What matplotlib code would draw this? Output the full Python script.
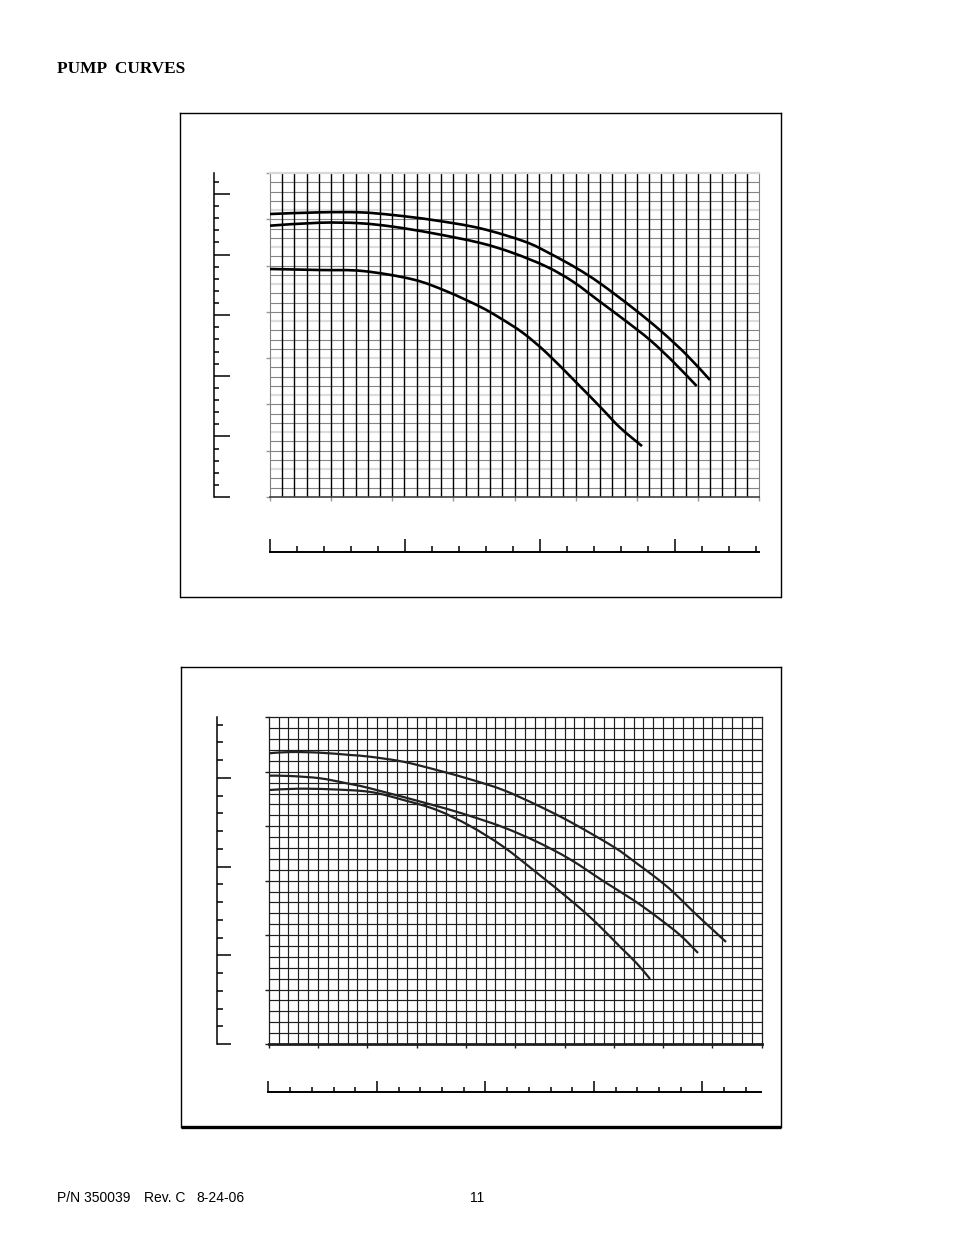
import numpy as np
import matplotlib.pyplot as plt
from matplotlib.path import Path
from matplotlib.patches import PathPatch
from matplotlib.ticker import MultipleLocator

# page size in pixels
W, H = 954, 1235

# ---- data (grid units: x = columns, y = rows) ----
# upper chart: 40 x 35 grid
top_a_x = [0.00, 4.09, 7.36, 10.06, 13.33, 17.18, 20.86, 22.90, 25.09, 26.99, 29.72, 32.04, 34.09, 35.99]
top_a_y = [30.57, 30.75, 30.75, 30.46, 29.92, 29.03, 27.58, 26.30, 24.71, 23.09, 20.38, 17.86, 15.34, 12.64]
top_b_x = [0.00, 4.09, 7.36, 10.06, 13.33, 17.18, 19.88, 22.63, 24.79, 26.99, 29.18, 31.08, 32.99, 34.90]
top_b_y = [29.31, 29.63, 29.57, 29.20, 28.49, 27.45, 26.36, 24.88, 23.26, 21.10, 18.94, 16.96, 14.60, 11.99]
top_c_x = [0.00, 4.09, 7.61, 11.70, 14.48, 17.18, 18.81, 20.70, 22.63, 25.09, 27.00, 28.63, 30.43]
top_c_y = [24.63, 24.52, 24.41, 23.50, 22.20, 20.56, 19.34, 17.72, 15.56, 12.32, 9.75, 7.50, 5.50]

# lower chart: 50 x 30 grid
bot_a_x = [0.00, 2.16, 5.20, 8.24, 10.27, 13.65, 17.04, 20.42, 23.79, 27.18, 30.56, 34.95, 37.32, 39.35, 41.03, 43.06, 45.09, 46.38]
bot_a_y = [26.69, 26.81, 26.75, 26.54, 26.38, 25.92, 25.16, 24.31, 23.32, 21.95, 20.41, 18.12, 16.59, 15.22, 13.95, 12.15, 10.45, 9.37]
bot_b_x = [0.00, 2.16, 5.20, 7.91, 10.27, 17.04, 20.42, 23.79, 27.18, 30.56, 34.28, 36.98, 39.35, 41.71, 43.54]
bot_b_y = [24.64, 24.61, 24.40, 23.94, 23.48, 21.85, 20.94, 19.90, 18.58, 16.96, 14.76, 13.22, 11.69, 10.01, 8.36]
bot_c_x = [0.00, 2.84, 6.22, 10.27, 13.65, 17.04, 20.42, 23.79, 27.18, 30.89, 33.27, 35.63, 37.32, 38.68]
bot_c_y = [23.32, 23.44, 23.39, 23.15, 22.41, 21.49, 20.02, 18.12, 15.73, 13.00, 11.08, 8.93, 7.41, 5.97]

PT = 0.72  # points per pixel at dpi 100


def rect(x0, y0, x1, y1):
    return [x0 / W, 1 - y1 / H, (x1 - x0) / W, (y1 - y0) / H]


def box(fig, r, bottom_lw=1.0):
    ax = fig.add_axes(r)
    ax.set_xticks([])
    ax.set_yticks([])
    for s in ax.spines.values():
        s.set_linewidth(1.0)
        s.set_color('black')
    ax.spines['bottom'].set_linewidth(bottom_lw)
    ax.spines['bottom'].set_capstyle('butt')
    return ax


def left_ruler(fig, r, top, major_len, minor_len):
    ax = fig.add_axes(r)
    ax.patch.set_visible(False)
    for s in ['right', 'top', 'bottom']:
        ax.spines[s].set_visible(False)
    ax.spines['left'].set_linewidth(1.1)
    ax.set_ylim(0, top)
    ax.set_xticks([])
    ax.yaxis.set_major_locator(MultipleLocator(1))
    ax.yaxis.set_minor_locator(MultipleLocator(0.2))
    ax.tick_params(axis='y', which='major', direction='in', length=major_len * PT, width=1.1, labelleft=False)
    ax.tick_params(axis='y', which='minor', direction='in', length=minor_len * PT, width=1.1)
    return ax


def bottom_ruler(fig, r, right, major_len, minor_len):
    ax = fig.add_axes(r)
    ax.patch.set_visible(False)
    for s in ['right', 'top', 'left']:
        ax.spines[s].set_visible(False)
    ax.spines['bottom'].set_linewidth(1.4)
    ax.set_xlim(0, right)
    ax.set_yticks([])
    ax.xaxis.set_major_locator(MultipleLocator(1))
    ax.xaxis.set_minor_locator(MultipleLocator(0.2))
    ax.tick_params(axis='x', which='major', direction='in', length=major_len * PT, width=1.1, labelbottom=False)
    ax.tick_params(axis='x', which='minor', direction='in', length=minor_len * PT, width=1.1)
    return ax


def smooth_curve(ax, xs, ys, **kw):
    # Catmull-Rom through the read points, drawn as cubic Bezier segments
    p = np.column_stack([xs, ys])
    verts = [p[0]]
    codes = [Path.MOVETO]
    for i in range(len(p) - 1):
        p0 = p[i - 1] if i > 0 else p[i]
        p3 = p[i + 2] if i + 2 < len(p) else p[i + 1]
        c1 = p[i] + (p[i + 1] - p0) / 6
        c2 = p[i + 1] - (p3 - p[i]) / 6
        verts += [c1, c2, p[i + 1]]
        codes += [Path.CURVE4] * 3
    ax.add_patch(PathPatch(Path(verts, codes), fill=False, capstyle='butt', **kw))


fig = plt.figure(figsize=(W / 100, H / 100), dpi=100)

fig.text(57 / W, 1 - 69 / H, 'PUMP  CURVES', family='Liberation Serif', weight='bold',
         fontsize=12.4, va='center', ha='left')
foot_y = 1 - 1198 / H
fig.text(57 / W, foot_y, 'P/N 350039', family='Liberation Sans', fontsize=10, va='center', ha='left')
fig.text(144 / W, foot_y, 'Rev. C', family='Liberation Sans', fontsize=10, va='center', ha='left')
fig.text(196 / W, foot_y, '8-24-06', family='Liberation Sans', fontsize=10, va='center', ha='left')
fig.text(470 / W, foot_y, '11', family='Liberation Sans', fontsize=10, va='center', ha='left')

# ---- upper chart ----
box(fig, rect(180, 113, 781, 597))
left_ruler(fig, rect(214, 173, 240, 497), 324 / 60.6, 16, 5)
bottom_ruler(fig, rect(270, 530, 759, 552), 489 / 135, 13, 6)

ax1 = fig.add_axes(rect(270, 173, 759, 497))
ax1.set_xlim(0, 40)
ax1.set_ylim(0, 35)
for j in range(1, 35):
    if j % 4 == 3:
        ax1.axhline(j, color='#dcdcdc', lw=1.6, zorder=1)
    else:
        ax1.axhline(j, color='#858585', lw=0.8, zorder=1)
for i in range(1, 40):
    ax1.axvline(i, color='black', lw=1.0, zorder=2)
ax1.spines['left'].set_color('#808080')
ax1.spines['right'].set_color('#808080')
ax1.spines['top'].set_color('#d8d8d8')
ax1.spines['top'].set_linewidth(1.6)
ax1.spines['bottom'].set_color('#404040')
ax1.spines['bottom'].set_linewidth(1.2)
ax1.set_xticks(range(0, 41, 5))
ax1.set_yticks(range(0, 36, 5))
ax1.tick_params(direction='out', length=3, width=1.0, color='#999999',
                labelbottom=False, labelleft=False)
for cx, cy in [(top_a_x, top_a_y), (top_b_x, top_b_y), (top_c_x, top_c_y)]:
    smooth_curve(ax1, cx, cy, edgecolor='black', lw=1.9, zorder=3)

# ---- lower chart ----
box(fig, rect(181, 667, 781, 1127), bottom_lw=2.4)
left_ruler(fig, rect(217, 717, 245, 1044), 327 / 88.7, 14, 6)
bottom_ruler(fig, rect(268.5, 1070, 761.5, 1091.5), 493 / 108.5, 10.7, 5.3)

ax2 = fig.add_axes(rect(268.7, 717.3, 761.7, 1044))
ax2.set_xlim(0, 50)
ax2.set_ylim(0, 30)
for j in range(1, 30):
    ax2.axhline(j, color='#1e1e1e', lw=0.85, zorder=1)
for i in range(1, 50):
    ax2.axvline(i, color='#1e1e1e', lw=0.85, zorder=1)
for s in ax2.spines.values():
    s.set_color('#1e1e1e')
    s.set_linewidth(0.9)
ax2.spines['bottom'].set_linewidth(2.0)
ax2.set_xticks(range(0, 51, 5))
ax2.set_yticks(range(0, 31, 5))
ax2.tick_params(direction='out', length=3, width=1.0, color='#1e1e1e',
                labelbottom=False, labelleft=False)
for cx, cy in [(bot_a_x, bot_a_y), (bot_b_x, bot_b_y), (bot_c_x, bot_c_y)]:
    smooth_curve(ax2, cx, cy, edgecolor='#222222', lw=1.6, zorder=3)

fig.savefig('out.png', dpi=100)
